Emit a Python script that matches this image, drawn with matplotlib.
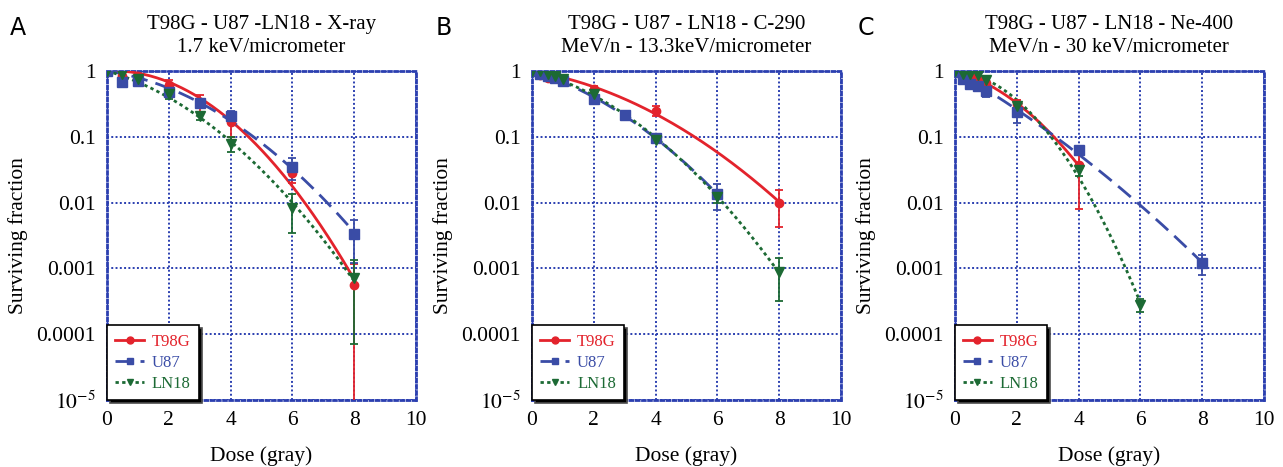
import numpy as np
import matplotlib
matplotlib.use("Agg")
import matplotlib.pyplot as plt
from matplotlib.ticker import FixedLocator, FixedFormatter

plt.rcParams['font.family'] = ['Liberation Serif', 'DejaVu Serif']
plt.rcParams['mathtext.fontset'] = 'stix'

# ---- data (dose in gray, surviving fraction) ----
# panel A: X-ray
a_t98g_dose = [0, 0.5, 1, 2, 3, 4, 6, 8]
a_t98g_sf = [1.0, 0.85, 0.85, 0.62, 0.33, 0.168, 0.028, 0.00055]
a_t98g_err = [0.02, 0.05, 0.05, 0.10, 0.10, 0.07, 0.008, 0.0006]
a_u87_dose = [0, 0.5, 1, 2, 3, 4, 6, 8]
a_u87_sf = [1.0, 0.68, 0.70, 0.48, 0.33, 0.207, 0.035, 0.0033]
a_u87_err = [0.02, 0.06, 0.05, 0.05, 0.04, 0.04, 0.013, 0.0021]
a_ln18_dose = [0, 0.5, 1, 2, 3, 4, 6, 8]
a_ln18_sf = [1.0, 0.89, 0.76, 0.44, 0.21, 0.079, 0.0084, 0.00071]
a_ln18_err = [0.02, 0.05, 0.05, 0.06, 0.03, 0.021, 0.005, 0.00064]

# panel B: C-290 MeV/n
b_t98g_dose = [0, 0.25, 0.5, 1, 2, 4, 8]
b_t98g_sf = [1.0, 0.86, 0.79, 0.74, 0.54, 0.25, 0.010]
b_t98g_err = [0.02, 0.04, 0.04, 0.04, 0.05, 0.04, 0.0057]
b_u87_dose = [0, 0.25, 0.5, 0.75, 1, 2, 3, 4, 6]
b_u87_sf = [1.0, 0.89, 0.83, 0.78, 0.70, 0.37, 0.217, 0.095, 0.0134]
b_u87_err = [0.02, 0.04, 0.04, 0.05, 0.05, 0.04, 0.03, 0.01, 0.0058]
b_ln18_dose = [0, 0.25, 0.5, 0.75, 1, 2, 4, 6, 8]
b_ln18_sf = [1.0, 1.0, 0.89, 0.83, 0.75, 0.44, 0.09, 0.012, 0.00088]
b_ln18_err = [0.02, 0.03, 0.04, 0.04, 0.05, 0.04, 0.01, 0.002, 0.00056]

# panel C: Ne-400 MeV/n
c_t98g_dose = [0, 0.25, 0.5, 0.75, 1, 2, 4]
c_t98g_sf = [1.0, 0.9, 0.85, 0.75, 0.66, 0.32, 0.037]
c_t98g_err = [0.02, 0.05, 0.05, 0.05, 0.06, 0.04, 0.029]
c_u87_dose = [0, 0.25, 0.5, 0.75, 1, 2, 4, 8]
c_u87_sf = [0.95, 0.76, 0.64, 0.60, 0.50, 0.24, 0.062, 0.0012]
c_u87_err = [0.03, 0.08, 0.08, 0.06, 0.10, 0.08, 0.008, 0.0004]
c_ln18_dose = [0, 0.25, 0.5, 0.75, 1, 2, 4, 6]
c_ln18_sf = [1.0, 0.89, 0.89, 0.86, 0.74, 0.29, 0.031, 0.00028]
c_ln18_err = [0.02, 0.05, 0.05, 0.05, 0.10, 0.04, 0.006, 0.00006]

titles = ["T98G - U87 -LN18 - X-ray\n1.7 keV/micrometer",
          "T98G - U87 - LN18 - C-290\nMeV/n - 13.3keV/micrometer",
          "T98G - U87 - LN18 - Ne-400\nMeV/n - 30 keV/micrometer"]
letters = ["A", "B", "C"]
y_ticks = [1e-5, 1e-4, 1e-3, 1e-2, 1e-1, 1]
y_labels = [r"$10^{-5}$", "0.0001", "0.001", "0.01", "0.1", "1"]
x_ticks = [0, 2, 4, 6, 8, 10]

red = '#e3232c'
blue = '#3a4ca6'
green = '#1c6a34'
grid_blue = '#2b3fb0'


def lq_fit(dose, sf):
    # linear-quadratic fit: ln S = -a D - b D^2
    d = np.array(dose, dtype=float)
    s = np.array(sf, dtype=float)
    A = np.column_stack([-d, -d ** 2])
    coef = np.linalg.lstsq(A, np.log(s), rcond=None)[0]
    dd = np.linspace(0, d.max(), 200)
    return dd, np.exp(-coef[0] * dd - coef[1] * dd ** 2)


panels = [
    [(a_t98g_dose, a_t98g_sf, a_t98g_err), (a_u87_dose, a_u87_sf, a_u87_err), (a_ln18_dose, a_ln18_sf, a_ln18_err)],
    [(b_t98g_dose, b_t98g_sf, b_t98g_err), (b_u87_dose, b_u87_sf, b_u87_err), (b_ln18_dose, b_ln18_sf, b_ln18_err)],
    [(c_t98g_dose, c_t98g_sf, c_t98g_err), (c_u87_dose, c_u87_sf, c_u87_err), (c_ln18_dose, c_ln18_sf, c_ln18_err)],
]
names = ["T98G", "U87", "LN18"]
colors = [red, blue, green]
markers = ['o', 's', 'v']
styles = ['-', (0, (6, 3)), (0, (1.2, 1.2))]
msizes = [6, 7, 7]

fig = plt.figure(figsize=(12.83, 4.67), dpi=100)
lefts = [0.0834, 0.4147, 0.7443]

for k in range(3):
    ax = fig.add_axes([lefts[k], 0.1435, 0.2408, 0.7045])
    ax.set_yscale('log')
    ax.set_xlim(0, 10)
    ax.set_ylim(1e-5, 1)
    handles = []
    for j in range(3):
        dose, sf, err = panels[k][j]
        dd, fit = lq_fit(dose, sf)
        ax.plot(dd, fit, color=colors[j], linestyle=styles[j], lw=2, zorder=3)
        lo = np.minimum(np.array(err), np.array(sf) * 0.999)
        ax.errorbar(dose, sf, yerr=[lo, err], fmt=markers[j], color=colors[j],
                    ms=msizes[j], capsize=3, elinewidth=1.3, capthick=1.3, zorder=4)
        h, = ax.plot([], [], color=colors[j], linestyle=styles[j], lw=2,
                     marker=markers[j], ms=5)
        handles.append(h)
    ax.yaxis.set_major_locator(FixedLocator(y_ticks))
    ax.yaxis.set_major_formatter(FixedFormatter(y_labels))
    ax.yaxis.set_minor_locator(FixedLocator([]))
    ax.set_xticks(x_ticks)
    ax.tick_params(axis='x', length=0, labelsize=15.5, pad=8)
    ax.tick_params(axis='y', length=0, labelsize=15.5, pad=8)
    ax.grid(True, color=grid_blue, linestyle=(0, (1, 1.2)), lw=1.4)
    for sp in ax.spines.values():
        sp.set_color(grid_blue)
        sp.set_linestyle((0, (1, 1.2)))
        sp.set_linewidth(2.0)
    ax.set_xlabel("Dose (gray)", fontsize=15.5, labelpad=12)
    ax.set_ylabel("Surviving fraction", fontsize=15.5, labelpad=6)
    ax.set_title(titles[k], fontsize=15, linespacing=1.25, pad=14)
    leg = ax.legend(handles, names, loc='lower left', borderaxespad=0, fancybox=False,
                    shadow={'facecolor': 'k', 'alpha': 1}, edgecolor='k', framealpha=1,
                    fontsize=12, handlelength=1.7, handletextpad=0.5, labelspacing=0.3,
                    borderpad=0.5)
    leg.get_frame().set_linewidth(1.2)
    for t, c in zip(leg.get_texts(), colors):
        t.set_color(c)
    fig.text(lefts[k] - 0.0755, 0.94, letters[k], fontsize=17, family='DejaVu Sans',
             va='center', ha='left')

fig.savefig("out.png", dpi=100)
